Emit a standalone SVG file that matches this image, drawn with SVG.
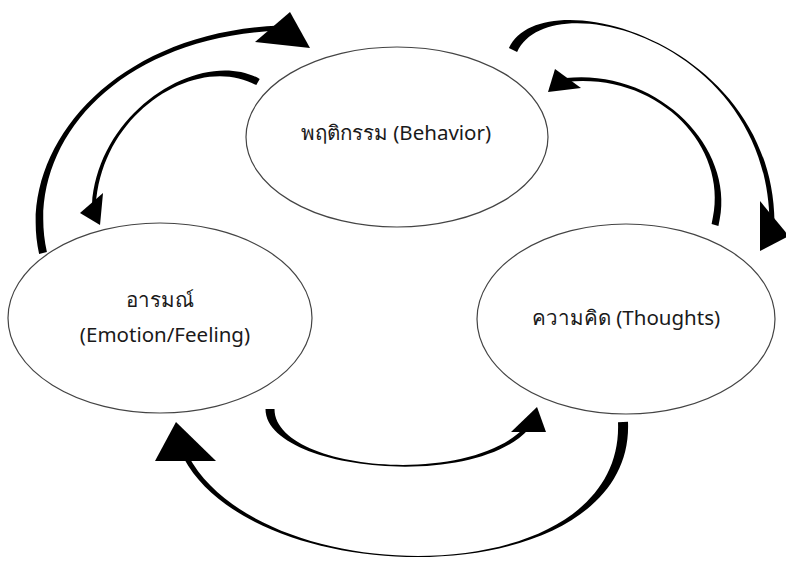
<svg xmlns="http://www.w3.org/2000/svg" width="786" height="561" viewBox="0 0 786 561">
<style>
.node ellipse{fill:#fff;stroke:#444;stroke-width:1.2}
.node text{font-family:"Noto Sans","DejaVu Sans",sans-serif;font-size:20.5px;fill:#1a1a1a;text-anchor:middle}
.arr path,.arr polygon{fill:#000;stroke:none}
</style>
<rect width="786" height="561" fill="#fff"/>
<g id="behavior" class="node">
<ellipse cx="397" cy="137" rx="151" ry="90"/>
<text x="396" y="140">พฤติกรรม (Behavior)</text>
</g>
<g id="emotion" class="node">
<ellipse cx="160" cy="318" rx="152" ry="95"/>
<text x="160" y="307">อารมณ์</text>
<text x="165" y="342">(Emotion/Feeling)</text>
</g>
<g id="thoughts" class="node">
<ellipse cx="626" cy="319" rx="149" ry="95"/>
<text x="626" y="325">ความคิด (Thoughts)</text>
</g>
<g id="connectors" class="arr">
<path d="M46.9,252.1 C23.9,149.1 110.2,37.5 280.2,30.5 L279.8,25.5 C109.8,32.5 16.1,150.9 39.1,253.9 Z"/>
<polygon points="310,48 290,12 255,42"/>
<path d="M259.7,78.9 C201.7,46.9 98,109.8 92,204.8 L96,205.2 C102,110.2 198.3,53.1 256.3,85.1 Z"/>
<polygon points="100,225 80,213 103,193"/>
<path d="M517.1,51.9 C549,-18 767.5,40 769.5,222.1 L774.5,222 C772.5,40 541,-22 508.9,48.1 Z"/>
<polygon points="760,201 789,236 760,251"/>
<path d="M718.4,225.9 C738.4,150.9 659.8,68 565.8,78 L566.2,82 C660.2,72 731.6,149.1 711.6,224.1 Z"/>
<polygon points="548,92 555,69 581,88"/>
<path d="M265.5,409 C265.5,470 471.5,491.4 528.5,429.4 L525.5,426.6 C468.5,488.6 274.5,470 274.5,409 Z"/>
<polygon points="537,407 511,432 546,432"/>
<path d="M618,422.2 C625,595.2 262.2,593.8 188.2,455.8 L183.8,458.2 C257.8,596.2 635,594.8 628,421.8 Z"/>
<polygon points="176,422 155,461 216,461"/>
</g>
</svg>
